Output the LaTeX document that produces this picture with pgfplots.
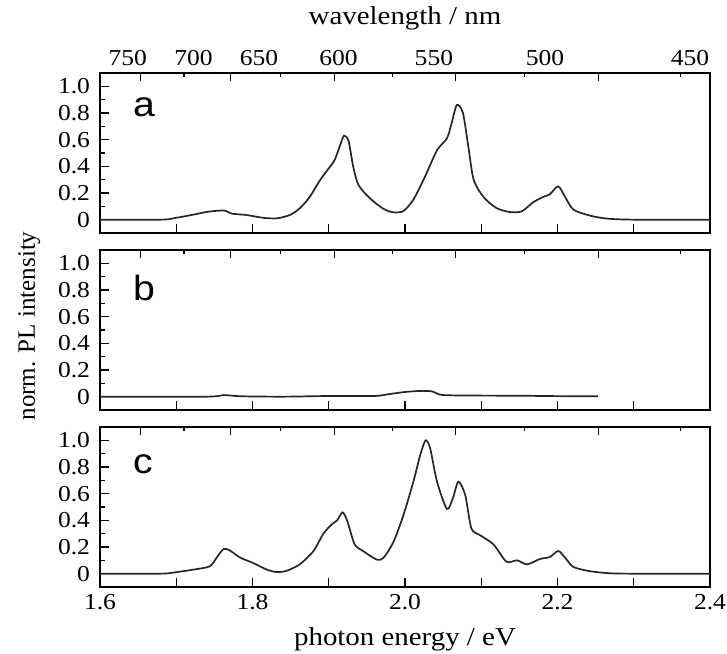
\documentclass[border=0pt]{standalone}
\usepackage{fontspec}
\setmainfont{Liberation Serif}[FakeStretch=1.12]
\newfontfamily\ylabfont{Liberation Serif}
\newfontfamily\letterfont{Liberation Sans}[FakeStretch=1.12]
\usepackage{pgfplots}
\pgfplotsset{compat=1.18}

\newcommand\ticklab{\fontsize{11.4}{13}\selectfont}
\newcommand\axlab{\fontsize{12.9}{15}\selectfont}

\tikzset{letter/.style={anchor=base west, font=\letterfont\fontsize{17.5}{20}\selectfont, inner sep=0pt}}

\pgfplotsset{
  panel/.style={
    width=305pt, height=80pt, scale only axis,
    xmin=1.6, xmax=2.4, ymin=-0.1, ymax=1.1,
    axis line style={line width=0.6pt},
    every tick/.style={black, line width=0.6pt},
    tick align=inside,
    major tick length=4.5pt, minor tick length=2.5pt,
    xtick={1.6,1.7,1.8,1.9,2.0,2.1,2.2,2.3,2.4},
    xtick pos=lower, ytick pos=left,
    ytick={0,0.2,0.4,0.6,0.8,1.0},
    yticklabels={0,0.2,0.4,0.6,0.8,1.0},
    minor ytick={0.1,0.3,0.5,0.7,0.9},
    tick label style={font=\ticklab},
    yticklabel style={xshift=-1.5pt},
    clip=false,
  },
  topax/.style={
    width=305pt, height=80pt, scale only axis,
    xmin=1.6, xmax=2.4, ymin=-0.1, ymax=1.1,
    axis x line*=top, axis y line=none, ytick=\empty,
    axis line style={line width=0.6pt},
    every tick/.style={black, line width=0.6pt},
    tick align=inside,
    major tick length=4pt, minor tick length=2pt,
    xtick={1.65312,1.77120,1.90745,2.06640,2.25425},
    minor xtick={1.71012,1.83680,1.98374,2.15625,2.36160},
    xticklabels={,,,,},
    tick label style={font=\ticklab},
  },
  curve/.style={black!85, line width=0.85pt, mark=none, smooth, tension=0.45},
}

\begin{document}
\begin{tikzpicture}
\path[use as bounding box] (-50pt,-33pt) rectangle (313.5pt,293.5pt);

% ---------------- panel a ----------------
\begin{axis}[panel, at={(0pt,177pt)}, anchor=south west, xticklabels={,,,,,,,,}]
\addplot[curve] coordinates {
(1.600,0) (1.680,0.0) (1.696,0.01) (1.722,0.037) (1.740,0.058) (1.757,0.068)
(1.765,0.066) (1.773,0.045) (1.792,0.035) (1.814,0.014) (1.832,0.01) (1.849,0.035)
(1.862,0.085) (1.875,0.17) (1.889,0.30) (1.902,0.40) (1.908,0.45) (1.915,0.56)
(1.920,0.63) (1.926,0.59) (1.932,0.40) (1.939,0.26) (1.954,0.16) (1.972,0.08)
(1.985,0.055) (1.998,0.065) (2.011,0.15) (2.026,0.32) (2.042,0.52) (2.055,0.61)
(2.061,0.72) (2.068,0.86) (2.076,0.80) (2.083,0.55) (2.090,0.30) (2.103,0.17)
(2.120,0.087) (2.138,0.057) (2.153,0.062) (2.168,0.13) (2.181,0.17) (2.190,0.19)
(2.201,0.25) (2.210,0.17) (2.221,0.075) (2.243,0.03) (2.265,0.008) (2.300,0.0) (2.400,0)
};
\node[letter] at (axis cs:1.643,0.77) {a};
\end{axis}
\begin{axis}[topax, at={(0pt,177pt)}, anchor=south west,
  extra x ticks={1.6365,1.7225,1.8085,1.9128,2.0379,2.1836,2.3738},
  extra x tick labels={750,700,650,600,550,500,450},
  extra x tick style={major tick length=0pt},
  xlabel={wavelength / nm},
  xlabel style={at={(axis description cs:0.5,1)}, anchor=base, yshift=24pt, font=\axlab}]
\end{axis}

% ---------------- panel b ----------------
\begin{axis}[panel, at={(0pt,88.5pt)}, anchor=south west, xticklabels={,,,,,,,,},
  ylabel={norm. PL intensity},
  ylabel style={at={(axis description cs:-0.1066,0.525)}, anchor=base,
    font=\ylabfont\fontsize{12.5}{15}\selectfont}]
\addplot[curve] coordinates {
(1.600,0) (1.740,0) (1.762,0.012) (1.785,0.003) (1.840,0.0) (1.900,0.005)
(1.960,0.005) (1.980,0.02) (2.000,0.035) (2.020,0.043) (2.035,0.04) (2.046,0.015)
(2.060,0.01) (2.100,0.008) (2.150,0.007) (2.200,0.004) (2.253,0.003)
};
\node[letter] at (axis cs:1.643,0.72) {b};
\end{axis}
\begin{axis}[topax, at={(0pt,88.5pt)}, anchor=south west]
\end{axis}

% ---------------- panel c ----------------
\begin{axis}[panel, at={(0pt,0pt)}, anchor=south west,
  xticklabels={1.6,,1.8,,2.0,,2.2,,2.4},
  xlabel={photon energy / eV},
  xlabel style={at={(axis description cs:0.5,0)}, anchor=base, yshift=-29pt, font=\axlab}]
\addplot[curve] coordinates {
(1.600,0) (1.680,0) (1.701,0.012) (1.722,0.03) (1.744,0.055) (1.753,0.12)
(1.762,0.185) (1.770,0.175) (1.784,0.12) (1.801,0.08) (1.819,0.03) (1.832,0.012)
(1.845,0.022) (1.862,0.07) (1.880,0.17) (1.893,0.30) (1.904,0.37) (1.911,0.40)
(1.918,0.46) (1.924,0.40) (1.934,0.22) (1.945,0.17) (1.963,0.105) (1.972,0.12)
(1.985,0.24) (1.998,0.44) (2.011,0.69) (2.020,0.89) (2.027,1.0) (2.033,0.94)
(2.042,0.69) (2.055,0.485) (2.063,0.57) (2.070,0.69) (2.079,0.59) (2.087,0.34)
(2.098,0.29) (2.116,0.22) (2.133,0.09) (2.147,0.10) (2.160,0.07) (2.177,0.11)
(2.190,0.125) (2.201,0.17) (2.210,0.12) (2.221,0.05) (2.243,0.018) (2.269,0.003)
(2.300,0) (2.400,0)
};
\node[letter] at (axis cs:1.643,0.75) {c};
\end{axis}
\begin{axis}[topax, at={(0pt,0pt)}, anchor=south west]
\end{axis}
\end{tikzpicture}
\end{document}
